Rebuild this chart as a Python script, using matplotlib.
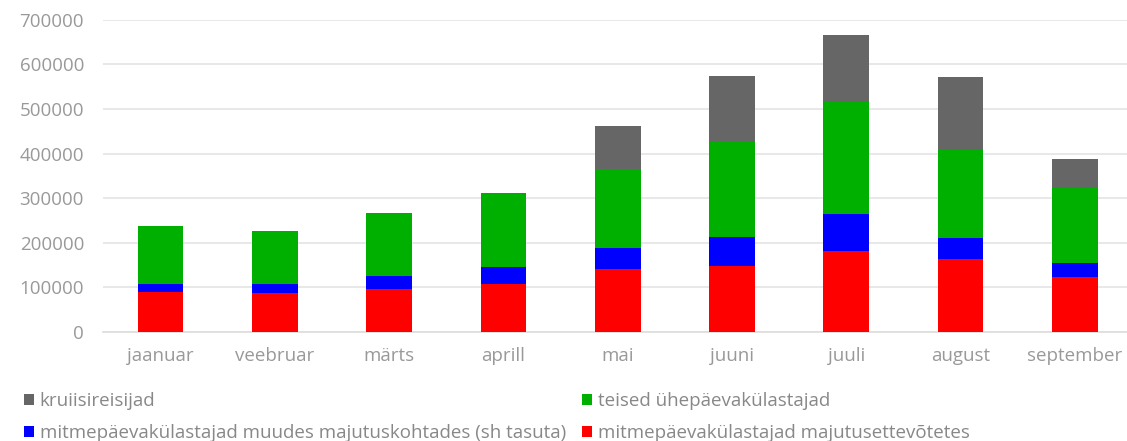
import matplotlib.pyplot as plt
import numpy as np

# Monthly visitor counts by group
months = ["jaanuar", "veebruar", "märts", "aprill", "mai", "juuni", "juuli", "august", "september"]
majutusettevotted = [89000, 87000, 97000, 108000, 141000, 149000, 182000, 164000, 124000]
muudes_majutuskohtades = [18000, 20000, 29000, 39000, 48000, 65000, 83000, 46000, 30000]
uhepaevakulastajad = [131000, 120000, 142000, 164000, 177000, 215000, 250000, 198000, 169000]
kruiisireisijad = [0, 0, 0, 0, 97000, 146000, 151000, 164000, 64000]

labels = {
    "red": "mitmepäevakülastajad majutusettevõtetes",
    "blue": "mitmepäevakülastajad muudes majutuskohtades (sh tasuta)",
    "green": "teised ühepäevakülastajad",
    "gray": "kruiisireisijad",
}

plt.rcParams["font.family"] = ["Open Sans", "DejaVu Sans"]

fig = plt.figure(figsize=(11.27, 4.41), dpi=100)
# plot area runs a bit past the right edge of the picture
ax = fig.add_axes([0.0918, 0.247, 0.9126, 0.708])

x = np.arange(len(months))
w = 0.4
red = np.array(majutusettevotted)
blue = np.array(muudes_majutuskohtades)
green = np.array(uhepaevakulastajad)
gray = np.array(kruiisireisijad)

b_red = ax.bar(x, red, w, color="#ff0000", label=labels["red"], zorder=3)
b_blue = ax.bar(x, blue, w, bottom=red, color="#0000ff", label=labels["blue"], zorder=3)
b_green = ax.bar(x, green, w, bottom=red + blue, color="#00b000", label=labels["green"], zorder=3)
b_gray = ax.bar(x, gray, w, bottom=red + blue + green, color="#666666", label=labels["gray"], zorder=3)

ax.set_ylim(0, 700000)
ax.set_xlim(-0.5, 8.5)
ax.set_yticks(range(0, 700001, 100000))
ax.set_xticks(x)
ax.set_xticklabels(months)
ax.grid(axis="y", color="#e4e4e4", linewidth=1.2, zorder=0)
for s in ["top", "right", "left"]:
    ax.spines[s].set_visible(False)
ax.spines["bottom"].set_color("#dddddd")
ax.spines["bottom"].set_linewidth(1.2)
ax.tick_params(axis="both", length=0, colors="#999999", labelsize=13.5)
ax.tick_params(axis="y", pad=14)
ax.tick_params(axis="x", pad=11)

handles = [b_gray, b_blue, b_green, b_red]
leg = fig.legend(handles, [h.get_label() for h in handles], ncol=2,
                 loc="upper left", bbox_to_anchor=(0.021, 0.111),
                 frameon=False, fontsize=13.5, handlelength=0.55, handleheight=0.55,
                 handletextpad=0.3, columnspacing=0.87, labelspacing=0.75,
                 borderaxespad=0, borderpad=0)
for t in leg.get_texts():
    t.set_color("#888888")

fig.savefig("out.png", dpi=100)
